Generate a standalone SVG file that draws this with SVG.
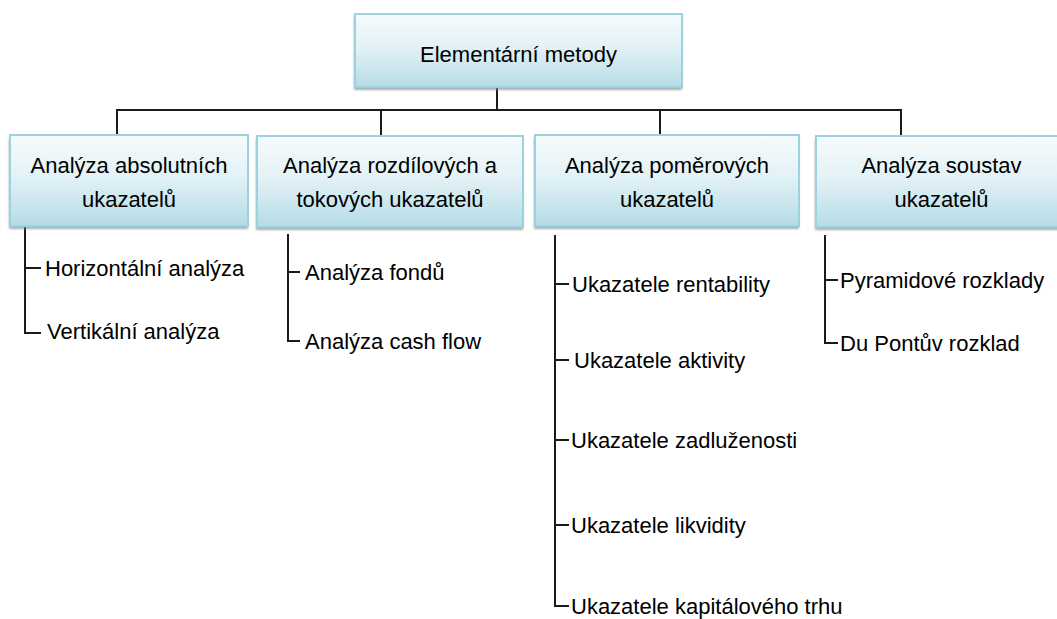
<svg xmlns="http://www.w3.org/2000/svg" width="1057" height="619" viewBox="0 0 1057 619">
<defs>
<linearGradient id="g" x1="0" y1="0" x2="0" y2="1">
<stop offset="0" stop-color="#f6fbfc"/>
<stop offset="0.45" stop-color="#e3f2f6"/>
<stop offset="1" stop-color="#b5dce6"/>
</linearGradient>
<filter id="sh" x="-5%" y="-5%" width="110%" height="120%">
<feGaussianBlur stdDeviation="1"/>
</filter>
</defs>
<style>
.box{fill:url(#g);stroke:#9dd1de;stroke-width:2}
.shadow{fill:#7f8f94;opacity:0.7;filter:url(#sh)}
.t{font-family:"Liberation Sans",Arial,sans-serif;font-size:22px;fill:#000}
.c{text-anchor:middle}
.ln{stroke:#1a1a1a;stroke-width:2;fill:none}
</style>
<rect width="1057" height="619" fill="#fff"/>
<g id="connectors">
<path class="ln" d="M497,87V110M116,110H902M117,110V136M381,110V136M660,110V136M901,110V136"/>
<path class="ln" d="M25,226V333H41M25,268H41"/>
<path class="ln" d="M288,234V341H300M288,272H300"/>
<path class="ln" d="M555,235V606H569M555,284H569M555,360H569M555,440H569M555,525H569"/>
<path class="ln" d="M825,235V343H838M825,280H838"/>
</g>
<g id="root">
<rect class="shadow" x="354" y="17" width="328" height="73"/>
<rect class="box" x="355" y="14" width="327" height="73"/>
<text class="t c" x="518.5" y="62">Elementární metody</text>
</g>
<g id="n1">
<rect class="shadow" x="9" y="138" width="239" height="91"/>
<rect class="box" x="10" y="135" width="238" height="91"/>
<text class="t c" x="129" y="173">Analýza absolutních</text>
<text class="t c" x="129" y="207">ukazatelů</text>
</g>
<g id="n2">
<rect class="shadow" x="256" y="139" width="267" height="91"/>
<rect class="box" x="257" y="136" width="266" height="91"/>
<text class="t c" x="390" y="173">Analýza rozdílových a</text>
<text class="t c" x="390" y="207">tokových ukazatelů</text>
</g>
<g id="n3">
<rect class="shadow" x="534" y="138" width="265" height="91"/>
<rect class="box" x="535" y="135" width="264" height="91"/>
<text class="t c" x="667" y="173">Analýza poměrových</text>
<text class="t c" x="667" y="207">ukazatelů</text>
</g>
<g id="n4">
<rect class="shadow" x="815" y="139" width="252" height="91"/>
<rect class="box" x="816" y="136" width="251" height="91"/>
<text class="t c" x="941.5" y="173">Analýza soustav</text>
<text class="t c" x="941.5" y="207">ukazatelů</text>
</g>
<g id="leaves1">
<text class="t" x="45" y="276">Horizontální analýza</text>
<text class="t" x="47" y="339">Vertikální analýza</text>
</g>
<g id="leaves2">
<text class="t" x="305" y="280">Analýza fondů</text>
<text class="t" x="305" y="349">Analýza cash flow</text>
</g>
<g id="leaves3">
<text class="t" x="572" y="292">Ukazatele rentability</text>
<text class="t" x="574" y="368">Ukazatele aktivity</text>
<text class="t" x="571" y="448">Ukazatele zadluženosti</text>
<text class="t" x="571" y="533">Ukazatele likvidity</text>
<text class="t" x="571" y="614">Ukazatele kapitálového trhu</text>
</g>
<g id="leaves4">
<text class="t" x="840" y="288">Pyramidové rozklady</text>
<text class="t" x="840" y="351">Du Pontův rozklad</text>
</g>
</svg>
